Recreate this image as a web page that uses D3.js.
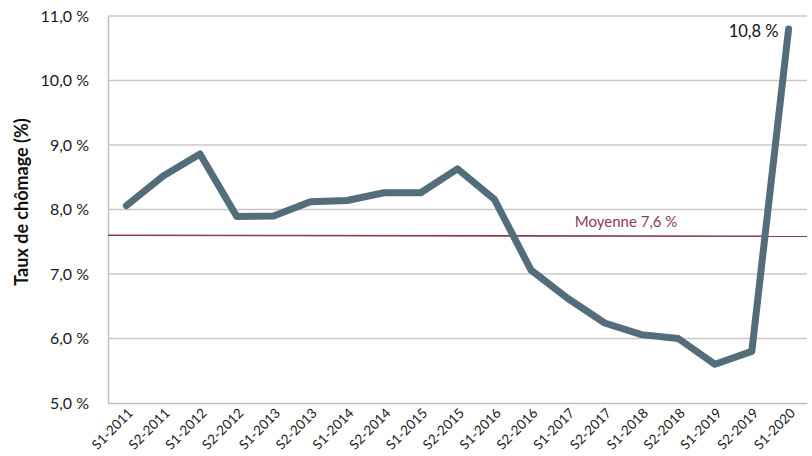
<!DOCTYPE html>
<html>
<head>
<meta charset="utf-8">
<script src="https://cdn.jsdelivr.net/npm/d3@7"></script>
<style>
  body { margin: 0; background: #fff; }
  svg text { font-family: Lato, "Open Sans", sans-serif; }
</style>
</head>
<body>
<div id="chart"></div>
<script>
const periods = ['S1-2011', 'S2-2011', 'S1-2012', 'S2-2012', 'S1-2013', 'S2-2013', 'S1-2014', 'S2-2014',
  'S1-2015', 'S2-2015', 'S1-2016', 'S2-2016', 'S1-2017', 'S2-2017', 'S1-2018', 'S2-2018',
  'S1-2019', 'S2-2019', 'S1-2020'];
const taux = [8.06, 8.52, 8.86, 7.89, 7.90, 8.12, 8.14, 8.26, 8.26, 8.63, 8.16, 7.06, 6.62, 6.24, 6.06, 6.00,
  5.60, 5.80, 10.8];
const moyenne = 7.6;
const yTicks = [5, 6, 7, 8, 9, 10, 11];

const w = 812, h = 456;
const margin = { top: 16, right: 5, bottom: 53, left: 108 };
const width = w - margin.left - margin.right;
const height = h - margin.top - margin.bottom;

const fmt = v => v.toFixed(1).replace('.', ',') + ' %';

const x = d3.scalePoint()
  .domain(periods)
  .range([0, width])
  .padding(0.5);

const y = d3.scaleLinear()
  .domain([5, 11])
  .range([height, 0]);

const svg = d3.select('#chart').append('svg')
  .attr('width', w)
  .attr('height', h);

const chart = svg.append('g')
  .attr('transform', 'translate(' + margin.left + ',' + margin.top + ')');

// grid
chart.append('g')
  .selectAll('line')
  .data(yTicks.slice(1))
  .enter()
  .append('line')
  .attr('x1', 0)
  .attr('x2', width)
  .attr('y1', d => y(d))
  .attr('y2', d => y(d))
  .attr('stroke', '#c8c8c8')
  .attr('stroke-width', 1.3);

// y axis
const yAxis = chart.append('g')
  .call(d3.axisLeft(y).tickValues(yTicks).tickFormat(fmt).tickSize(0).tickPadding(19));
yAxis.select('.domain').attr('stroke', '#c0c0c0').attr('stroke-width', 1.5);
yAxis.selectAll('text').attr('font-size', 16).attr('fill', '#1a1a1a');

// x axis
const xAxis = chart.append('g')
  .attr('transform', 'translate(0,' + height + ')')
  .call(d3.axisBottom(x).tickSize(0).tickPadding(0));
xAxis.select('.domain').attr('stroke', '#c0c0c0').attr('stroke-width', 1.5);
xAxis.selectAll('text')
  .attr('font-size', 13.5)
  .attr('fill', '#1a1a1a')
  .attr('text-anchor', 'end')
  .attr('dy', 0)
  .attr('transform', 'translate(7,11) rotate(-45)');

// mean line
chart.append('line')
  .attr('x1', 0)
  .attr('x2', width)
  .attr('y1', y(moyenne))
  .attr('y2', y(moyenne) + 1)
  .attr('stroke', '#8c3a58')
  .attr('stroke-width', 1.6);

chart.append('text')
  .attr('x', x('S2-2016') + 95)
  .attr('y', y(moyenne) - 8)
  .attr('text-anchor', 'middle')
  .attr('font-size', 15)
  .attr('fill', '#8c3a58')
  .text('Moyenne ' + fmt(moyenne));

// series
const line = d3.line()
  .x((d, i) => x(periods[i]))
  .y(d => y(d));

chart.append('path')
  .datum(taux)
  .attr('d', line)
  .attr('fill', 'none')
  .attr('stroke', '#546d7b')
  .attr('stroke-width', 7)
  .attr('stroke-linejoin', 'round')
  .attr('stroke-linecap', 'round');

const last = taux.length - 1;
chart.append('text')
  .attr('x', x(periods[last]) - 10)
  .attr('y', y(taux[last]) + 8)
  .attr('text-anchor', 'end')
  .attr('font-size', 16.5)
  .attr('fill', '#111')
  .text(fmt(taux[last]));

// y title
svg.append('text')
  .attr('transform', 'translate(28,' + 202 + ') rotate(-90)')
  .attr('text-anchor', 'middle')
  .attr('font-size', 18)
  .attr('font-weight', 'bold')
  .attr('fill', '#111')
  .text('Taux de chômage (%)');
</script>
</body>
</html>
